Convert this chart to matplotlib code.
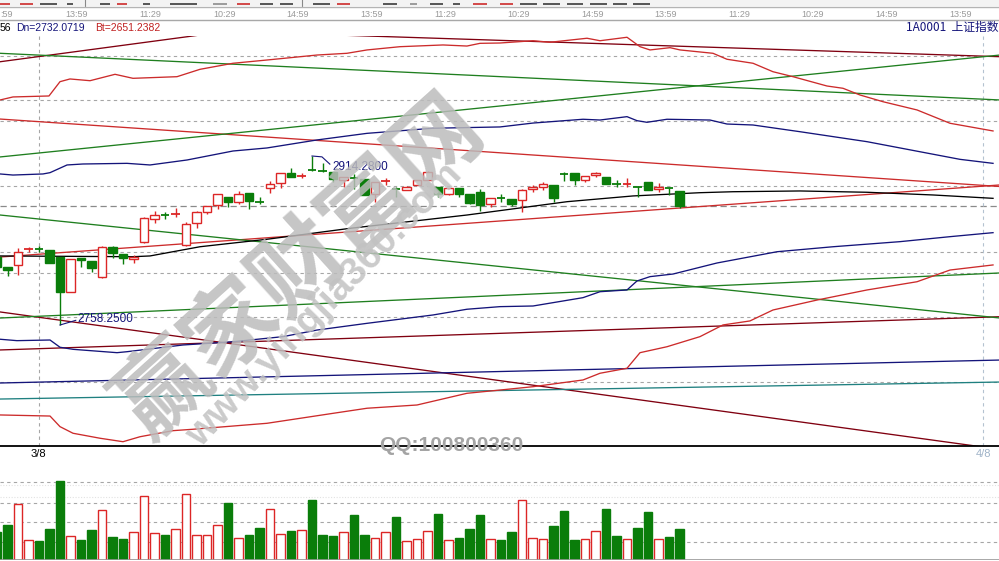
import matplotlib
matplotlib.use("Agg")
import matplotlib.pyplot as plt
from matplotlib.patches import Rectangle

plt.rcParams['font.family'] = ['Liberation Sans', 'DejaVu Sans']

W, H = 999, 561

# ---- 60-minute bars, 上证指数 (1A0001) ----
opens = [2820.8, 2811.5, 2813.7, 2827.7, 2828.4, 2827.5, 2821.3, 2789.0, 2819.8, 2817.3,
         2802.3, 2830.5, 2823.5, 2819.2, 2834.6, 2856.4, 2860.2, 2860.1, 2832.1, 2852.2,
         2862.6, 2868.8, 2876.2, 2872.1, 2879.8, 2872.5, 2885.0, 2889.1, 2898.3, 2895.4,
         2901.7, 2901.1, 2899.5, 2892.1, 2894.1, 2892.8, 2879.2, 2891.1, 2883.9, 2882.9,
         2887.5, 2892.1, 2885.9, 2878.9, 2884.5, 2878.9, 2881.3, 2870.0, 2875.6, 2874.3,
         2873.7, 2883.5, 2885.4, 2887.5, 2897.8, 2898.3, 2892.1, 2896.7, 2895.2, 2888.5,
         2888.1, 2886.6, 2890.0, 2883.5, 2885.0, 2882.0]
highs = [2822.9, 2811.5, 2829.1, 2830.5, 2831.2, 2827.5, 2821.3, 2819.5, 2819.8, 2817.3,
         2831.2, 2831.0, 2823.5, 2822.9, 2858.2, 2863.5, 2862.9, 2866.0, 2853.6, 2863.5,
         2868.1, 2878.9, 2876.2, 2882.0, 2879.8, 2876.7, 2891.2, 2898.3, 2902.9, 2898.3,
         2914.28, 2907.5, 2899.5, 2894.6, 2897.4, 2892.8, 2890.0, 2893.7, 2885.4, 2886.2,
         2892.2, 2900.7, 2885.9, 2884.8, 2884.5, 2878.9, 2883.5, 2875.2, 2878.9, 2874.3,
         2883.5, 2887.5, 2890.6, 2887.5, 2899.8, 2898.3, 2895.8, 2899.8, 2895.2, 2892.1,
         2893.7, 2886.6, 2890.0, 2889.6, 2885.0, 2882.0]
lows = [2809.0, 2803.5, 2804.4, 2825.4, 2825.9, 2815.2, 2758.25, 2788.5, 2811.5, 2807.5,
        2801.4, 2819.8, 2814.3, 2815.2, 2833.7, 2852.2, 2856.1, 2858.2, 2831.2, 2847.5,
        2860.5, 2865.6, 2866.9, 2869.7, 2865.4, 2869.7, 2879.8, 2885.0, 2894.6, 2893.7,
        2900.7, 2899.8, 2890.3, 2885.7, 2883.5, 2878.0, 2872.1, 2887.5, 2876.7, 2882.6,
        2887.2, 2891.8, 2876.7, 2878.6, 2876.7, 2870.0, 2863.8, 2867.5, 2872.1, 2868.1,
        2862.9, 2881.3, 2882.9, 2872.1, 2891.5, 2887.5, 2890.6, 2895.2, 2888.0, 2885.4,
        2885.4, 2876.7, 2882.6, 2881.3, 2878.3, 2866.0]
closes = [2811.5, 2809.0, 2825.9, 2828.4, 2827.7, 2815.8, 2789.0, 2818.9, 2818.3, 2810.6,
          2830.5, 2824.5, 2820.4, 2821.3, 2856.8, 2859.5, 2859.4, 2860.8, 2851.5, 2862.3,
          2868.1, 2878.9, 2872.1, 2878.9, 2873.0, 2871.7, 2888.2, 2898.3, 2895.2, 2896.2,
          2901.0, 2900.3, 2892.8, 2894.6, 2893.3, 2878.3, 2890.0, 2891.8, 2883.2, 2885.9,
          2891.8, 2899.2, 2879.2, 2884.5, 2879.2, 2871.2, 2869.0, 2875.2, 2874.9, 2869.7,
          2882.9, 2885.9, 2888.2, 2875.8, 2897.0, 2892.1, 2895.8, 2898.3, 2888.2, 2887.8,
          2888.8, 2885.4, 2882.9, 2885.9, 2883.8, 2868.4]
volumes = [28.3, 35, 56, 20, 19, 31, 79, 24, 20, 30,
           50, 23, 21, 28, 64, 27, 25, 31, 66, 25,
           25, 35, 57, 22, 25, 32, 51, 26, 29, 30,
           60, 25, 24, 28, 45, 25, 22, 28, 43, 19,
           21, 29, 46, 20, 22, 31, 45, 21, 20, 28,
           60, 22, 21, 34, 49, 20, 21, 29, 51, 24,
           21, 32, 48, 21, 23, 31]

# ---- band curves: bar index / index level ----
upper_red_x = [0.29, 1.52, 4.95, 6.0, 6.95, 8.86, 11.24, 12.95, 17.14, 19.33, 22.48, 25.71,
               30.48, 33.33, 35.24, 38.38, 42.48, 44.76, 46.0, 47.9, 51.05, 52.67, 56.19,
               57.43, 60.0, 61.24, 62.19, 64.1, 65.05, 68.19, 69.52, 72.0, 73.9, 75.81,
               79.05, 80.57, 82.19, 84.38, 87.62, 90.76, 94.86]
upper_red_y = [2966.0, 2968.8, 2969.7, 2982.9, 2985.4, 2983.8, 2989.7, 2986.0, 2987.5, 2994.3,
               2999.9, 3002.9, 3007.5, 3009.1, 3012.2, 3015.2, 3016.8, 3015.8, 3018.3, 3018.6,
               3020.7, 3019.3, 3023.0, 3020.7, 3023.9, 3015.2, 3012.2, 3014.3, 3012.2, 3009.1,
               3003.6, 2999.9, 2992.1, 2987.5, 2978.9, 2976.8, 2970.6, 2964.4, 2956.8, 2944.5,
               2937.4]
upper_navy_x = [0.29, 1.52, 4.38, 5.05, 6.67, 8.19, 12.38, 14.57, 18.1, 22.48, 25.71, 30.48,
                35.24, 41.52, 47.9, 51.05, 55.81, 57.43, 60.0, 60.95, 61.9, 63.81, 67.9,
                69.52, 72.0, 76.48, 82.86, 91.71, 94.86]
upper_navy_y = [2897.7, 2896.7, 2897.7, 2898.9, 2906.0, 2906.9, 2907.5, 2906.0, 2910.6, 2918.9,
                2921.7, 2929.1, 2935.2, 2939.9, 2941.1, 2944.7, 2948.2, 2947.5, 2950.6, 2946.9,
                2945.4, 2948.2, 2947.5, 2943.8, 2942.9, 2936.7, 2927.5, 2911.2, 2907.5]
mid_black_x = [0.29, 12.95, 14.57, 19.33, 25.71, 33.62, 44.76, 54.29, 60.57, 66.95, 70.1,
               76.48, 82.86, 89.14, 94.86]
mid_black_y = [2822.0, 2821.3, 2822.0, 2830.5, 2837.4, 2847.5, 2859.8, 2872.1, 2877.4, 2880.4,
               2881.3, 2882.0, 2880.8, 2878.3, 2875.2]
lower_navy_x = [0.29, 1.9, 5.05, 6.0, 7.24, 11.43, 12.38, 17.71, 22.48, 27.24, 30.48, 35.24,
                41.52, 44.76, 47.9, 51.05, 55.81, 57.43, 60.0, 60.95, 62.19, 64.38, 68.57,
                74.29, 79.62, 86.0, 90.76, 94.86]
lower_navy_y = [2745.1, 2743.8, 2744.4, 2737.7, 2735.8, 2732.7, 2733.6, 2739.8, 2742.8, 2747.5,
                2753.6, 2759.8, 2767.5, 2772.8, 2775.2, 2775.8, 2783.5, 2789.0, 2790.6, 2798.9,
                2802.9, 2805.3, 2815.5, 2825.9, 2830.5, 2835.2, 2839.8, 2843.5]
lower_red_x = [0.29, 5.05, 6.0, 7.24, 9.81, 12.0, 13.62, 16.76, 18.67, 25.71, 28.86, 32.0,
               35.24, 40.0, 44.76, 47.9, 51.05, 55.81, 57.43, 60.0, 61.24, 63.81, 66.95,
               69.14, 71.71, 73.9, 78.1, 82.86, 87.62, 90.76, 94.86]
lower_red_y = [2675.2, 2674.2, 2664.4, 2658.3, 2653.7, 2650.5, 2655.1, 2660.7, 2662.0, 2667.5,
               2672.1, 2676.7, 2681.4, 2684.4, 2695.2, 2698.2, 2701.3, 2707.5, 2713.7, 2718.3,
               2732.7, 2738.2, 2747.5, 2758.3, 2762.0, 2772.1, 2781.3, 2790.6, 2798.2, 2809.0,
               2813.7]

# ---- straight trend lines: (x0, y0, x1, y1) in bar index / index level ----
trend_maroon = [(0.29, 3001.3, 21.2, 3028.4), (31.7, 3026.2, 95.4, 3006.0),
                (0.29, 2770.3, 93.9, 2645.6), (0.29, 2735.2, 95.52, 2765.9)]
trend_red = [(0.29, 2948.4, 95.52, 2886.1), (0.29, 2821.0, 95.43, 2887.5)]
trend_green = [(0.29, 3009.1, 95.52, 2966.0), (0.29, 2913.4, 95.52, 3007.5),
               (0.29, 2859.8, 95.52, 2764.7), (0.29, 2764.7, 95.52, 2806.3)]
trend_navy = [(0.29, 2704.7, 95.52, 2725.9)]
trend_teal = [(0.29, 2689.9, 95.52, 2705.6)]

price_grid = [3006.6, 2966.0, 2946.6, 2886.6, 2825.7, 2806.3, 2765.6, 2705.6]
volume_grid = [78, 57, 38, 18]
volume_dots = [75, 63]
date_marks = [("3/8", 4.0), ("4/8", 93.9)]
time_labels = ["13:59", "11:29", "10:29", "14:59", "13:59", "11:29", "10:29",
               "14:59", "13:59", "11:29", "10:29", "14:59", "13:59"]
header_dn = "Dn=2732.0719"
header_bt = "Bt=2651.2382"

GREEN = '#0a7d0a'
RED = '#dc2626'
NAVY = '#14147a'
MAROON = '#800010'
LINE_RED = '#cc2b2b'
DASH = (0, (3, 3))

XLIM = (3 / 10.5, 1002 / 10.5)
BW = 0.79

fig = plt.figure(figsize=(W / 100, H / 100), dpi=100)
fig.patch.set_facecolor('white')

# ---------------- price panel ----------------
ax = fig.add_axes([0, 1 - 446 / H, 1, (446 - 35.5) / H])
ax.set_xlim(*XLIM)
ax.set_ylim(2646.54, 3025.53)
ax.axis('off')

for lv in price_grid:
    ax.axhline(lv, color='#a6a6a6', lw=0.8, ls=DASH, zorder=1)
ax.axhline(closes[-1], color='#8a8a8a', lw=0.9, ls=(0, (5, 3)), zorder=1)
ax.axvline(date_marks[0][1], color='#a6a6a6', lw=0.8, ls=DASH, zorder=1)
ax.axvline(date_marks[1][1], color='#b4c2d0', lw=0.8, ls=DASH, zorder=1)

def seg(lines, color):
    for x0, y0, x1, y1 in lines:
        ax.plot([x0, x1], [y0, y1], color=color, lw=0.95, zorder=2)

seg(trend_maroon, MAROON)
seg(trend_red, LINE_RED)
seg(trend_green, '#1f7f1f')
seg(trend_navy, NAVY)
seg(trend_teal, '#1f8080')

ax.plot(upper_red_x, upper_red_y, color=LINE_RED, lw=0.95, zorder=2)
ax.plot(lower_red_x, lower_red_y, color=LINE_RED, lw=0.95, zorder=2)
ax.plot(upper_navy_x, upper_navy_y, color=NAVY, lw=0.95, zorder=2)
ax.plot(lower_navy_x, lower_navy_y, color=NAVY, lw=0.95, zorder=2)
ax.plot(mid_black_x, mid_black_y, color='black', lw=0.95, zorder=2)

for i, (o, h, l, c) in enumerate(zip(opens, highs, lows, closes)):
    up = c >= o
    col = RED if up else GREEN
    ax.vlines(i, l, h, color=col, lw=1.0, zorder=4)
    lo, hi = min(o, c), max(o, c)
    if hi - lo < 1.2:
        ax.hlines((o + c) / 2, i - BW / 2, i + BW / 2, color=col, lw=1.3, zorder=5)
    else:
        ax.add_patch(Rectangle((i - BW / 2, lo), BW, hi - lo,
                               facecolor='white' if up else col,
                               edgecolor=col, lw=1.0, zorder=5))

# extreme-value markers
ih = highs.index(max(highs))
il = lows.index(min(lows))
ax.plot([ih, ih + 0.95, ih + 1.7], [max(highs), max(highs) - 0.8, max(highs) - 7.5],
        color=NAVY, lw=0.8, zorder=6)
ax.text(ih + 1.95, max(highs) - 10.6, f"{max(highs):.4f}", color=NAVY, fontsize=8.5,
        va='center', ha='left', zorder=6)
ax.plot([il, il + 1.5], [min(lows), min(lows) + 4.3], color=NAVY, lw=0.8, zorder=6)
ax.text(il + 1.7, min(lows) + 6.0, f"{min(lows):.4f}", color=NAVY, fontsize=8.5,
        va='center', ha='left', zorder=6)

# ---------------- volume panel ----------------
vax = fig.add_axes([0, 1 - 560 / H, 1, 100 / H])
vax.set_xlim(*XLIM)
vax.set_ylim(0, 100)
vax.axis('off')
for lv in volume_grid:
    vax.axhline(lv, color='#a6a6a6', lw=0.8, ls=DASH, zorder=1)
for lv in volume_dots:
    vax.axhline(lv, color='#e2e2e2', lw=0.8, ls=(0, (1, 1.5)), zorder=1)
for i, v in enumerate(volumes):
    up = closes[i] >= opens[i]
    col = RED if up else GREEN
    vax.add_patch(Rectangle((i - BW / 2, 0), BW, v,
                            facecolor='white' if up else col,
                            edgecolor=col, lw=1.0, zorder=3))
vax.axhline(0, color='#9a9a9a', lw=1.2, zorder=4)

# ---------------- frame, header and watermark ----------------
ov = fig.add_axes([0, 0, 1, 1], zorder=10)
ov.set_xlim(0, W)
ov.set_ylim(H, 0)
ov.axis('off')
ov.patch.set_alpha(0)

ov.add_patch(Rectangle((0, 0), W, 6, facecolor='#f3f3f3', edgecolor='none', zorder=1))
icons = [(0, 10, '#cc2222'), (20, 33, '#cc2222'), (40, 57, '#333333'), (67, 73, '#333333'),
         (100, 110, '#333333'), (117, 127, '#cc2222'), (143, 150, '#333333'),
         (170, 197, '#333333'), (213, 227, '#888888'), (237, 250, '#cc2222'),
         (260, 273, '#333333'), (280, 293, '#333333'), (313, 330, '#333333'),
         (337, 350, '#cc2222'), (383, 397, '#333333'), (410, 417, '#888888'),
         (430, 443, '#333333'), (453, 460, '#333333'), (473, 487, '#cc2222'),
         (500, 513, '#cc2222'), (520, 537, '#333333'), (543, 560, '#333333'),
         (567, 583, '#333333'), (590, 607, '#333333'), (613, 627, '#333333'),
         (633, 650, '#333333')]
for x0, x1, c in icons:
    ov.add_patch(Rectangle((x0, 2.5), x1 - x0, 2.0, facecolor=c, edgecolor='none',
                           alpha=0.8, zorder=2))
for xs in (85, 302):
    ov.plot([xs, xs], [0, 6], color='#888888', lw=0.8, zorder=2)
ov.plot([0, W], [6.5, 6.5], color='#b4b4b4', lw=1.0, zorder=2)
ov.plot([0, W], [19.5, 19.5], color='#a8a8a8', lw=1.0, zorder=2)

ov.text(0, 14, ":59", color='#9a9a9a', fontsize=6.5, ha='left', va='center')
for j, lab in enumerate(time_labels):
    ov.text(77 + j * 73.6, 14, lab, color='#9a9a9a', fontsize=6.5, ha='center', va='center')

ov.text(0, 28, "56", color='black', fontsize=7.5, ha='left', va='center')
ov.text(16, 28, header_dn, color=NAVY, fontsize=7.5, ha='left', va='center')
ov.text(95, 28, header_bt, color='#c02020', fontsize=7.5, ha='left', va='center')
ov.text(998, 27, "1A0001  上证指数", color=NAVY, fontsize=8.5, ha='right', va='center',
        family=['Noto Sans CJK SC', 'DejaVu Sans'])

ov.plot([0, W], [446, 446], color='black', lw=1.3, zorder=2)
ov.text(38.5, 454, date_marks[0][0], color='black', fontsize=8, ha='center', va='center')
ov.text(983, 454, date_marks[1][0], color='#9fb3c8', fontsize=8, ha='center', va='center')

ov.text(300, 268, "赢家财富网", rotation=42, rotation_mode='anchor', fontsize=66,
        fontweight='bold', color='#bcbcbc', alpha=0.85, ha='center', va='center',
        family=['Noto Sans CJK SC', 'DejaVu Sans'], zorder=5)
ov.text(325, 305, "www.yingjia360.com", rotation=46, rotation_mode='anchor', fontsize=28,
        fontweight='bold', color='#c2c2c2', alpha=0.85, ha='center', va='center', zorder=5)
ov.text(451.5, 445, "QQ:100800360", fontsize=15, fontweight='bold', color='#a4a4a4',
        ha='center', va='center', zorder=6)

fig.savefig("out.png", dpi=100, facecolor='white')
